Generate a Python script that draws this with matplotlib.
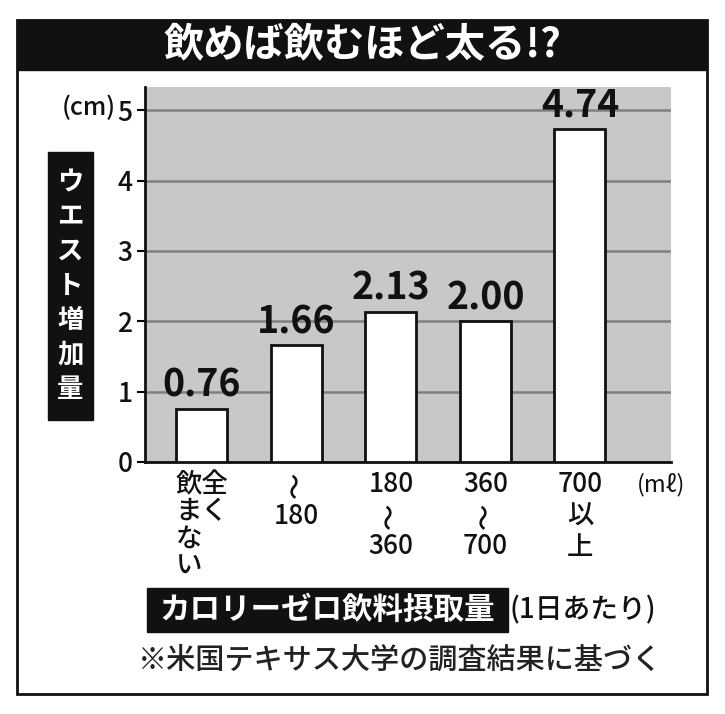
import matplotlib
matplotlib.use("Agg")
import matplotlib.pyplot as plt
from matplotlib.patches import Rectangle
from matplotlib.transforms import blended_transform_factory

plt.rcParams['font.family'] = ['Noto Sans CJK JP', 'DejaVu Sans']

# data
category_lines = [['飲全', 'まく', 'な　', 'い　'],
                  ['〜', '180'],
                  ['180', '〜', '360'],
                  ['360', '〜', '700'],
                  ['700', '以', '上']]
waist_gain = [0.76, 1.66, 2.13, 2.00, 4.74]
value_labels = ['0.76', '1.66', '2.13', '2.00', '4.74']
y_ticks = [0, 1, 2, 3, 4, 5]

title = '飲めば飲むほど太る!?'
y_label = 'ウエスト増加量'
x_label = 'カロリーゼロ飲料摂取量'
x_label_note = '(1日あたり)'
footnote = '※米国テキサス大学の調査結果に基づく'

fig = plt.figure(figsize=(7.25, 7.14), dpi=100)
fig.patch.set_facecolor('white')
ax = fig.add_axes([0.2, 0.353, 0.7255, 0.525])
ax.set_facecolor('#c8c8c8')

x = list(range(len(waist_gain)))
bars = ax.bar(x, waist_gain, width=0.54, color='white', edgecolor='#111111', linewidth=2, zorder=3)
for b, lab in zip(bars, value_labels):
    ax.annotate(lab, (b.get_x() + b.get_width() / 2, b.get_height()), xytext=(0, 3),
                textcoords='offset points', ha='center', va='bottom',
                fontsize=27, fontweight='bold', color='#111111', zorder=4)

ax.set_xlim(-0.603, 4.963)
ax.set_ylim(0, 5.33)
ax.set_yticks(y_ticks)
ax.set_yticklabels([str(t) for t in y_ticks], fontsize=19, fontweight='medium', color='#111111')
ax.set_xticks(x)
ax.set_xticklabels([])
ax.tick_params(axis='y', length=6, width=1.5, pad=3, direction='out')
ax.tick_params(axis='x', length=0)
ax.yaxis.grid(True, color='#808080', linewidth=1.8, zorder=1)
ax.set_axisbelow(True)
for s in ['top', 'right']:
    ax.spines[s].set_visible(False)
for s in ['left', 'bottom']:
    ax.spines[s].set_linewidth(2)
    ax.spines[s].set_color('#111111')

# category labels, one text per line (the wave dash is set vertical)
trans = blended_transform_factory(ax.transData, fig.transFigure)
for xi, lines in zip(x, category_lines):
    step = 27 if len(lines) == 4 else 31
    for k, line in enumerate(lines):
        y_px = 485 + k * step
        ax.text(xi, 1 - y_px / 714, line, transform=trans, ha='center', va='center',
                fontsize=19, fontweight='medium', color='#111111',
                rotation=90 if line == '〜' else 0)

# unit labels
fig.text(0.16, 1 - 108 / 714, '(cm)', ha='right', va='center', fontsize=18, fontweight='medium', color='#111111')
fig.text(0.878, 1 - 485 / 714, '(mℓ)', ha='left', va='center', fontsize=17, color='#111111')

# outer frame
fig.patches.append(Rectangle((17 / 725, 1 - 694 / 714), 690 / 725, 674 / 714, transform=fig.transFigure,
                             fill=False, edgecolor='#111111', linewidth=2))
# title bar
fig.patches.append(Rectangle((17 / 725, 1 - 70 / 714), 690 / 725, 50 / 714, transform=fig.transFigure,
                             facecolor='#111111', edgecolor='#111111'))
fig.text(0.5, 1 - 45 / 714, title, ha='center', va='center', fontsize=29, fontweight='bold', color='white')

# y label box
fig.patches.append(Rectangle((48 / 725, 1 - 420 / 714), 45 / 725, 268 / 714, transform=fig.transFigure,
                             facecolor='#111111', edgecolor='#111111'))
fig.text(70.5 / 725, 1 - 286 / 714, '\n'.join(y_label), ha='center', va='center', fontsize=19,
         fontweight='bold', color='white', linespacing=1.35)

# x label box
fig.patches.append(Rectangle((147 / 725, 1 - 632 / 714), 361 / 725, 44 / 714, transform=fig.transFigure,
                             facecolor='#111111', edgecolor='#111111'))
fig.text(327 / 725, 1 - 610 / 714, x_label, ha='center', va='center', fontsize=22, fontweight='bold', color='white')
fig.text(510 / 725, 1 - 610 / 714, x_label_note, ha='left', va='center', fontsize=20, fontweight='medium', color='#111111')

fig.text(400 / 725, 1 - 660 / 714, footnote, ha='center', va='center', fontsize=21, fontweight='medium', color='#222222')

fig.savefig('out.png', dpi=100)
